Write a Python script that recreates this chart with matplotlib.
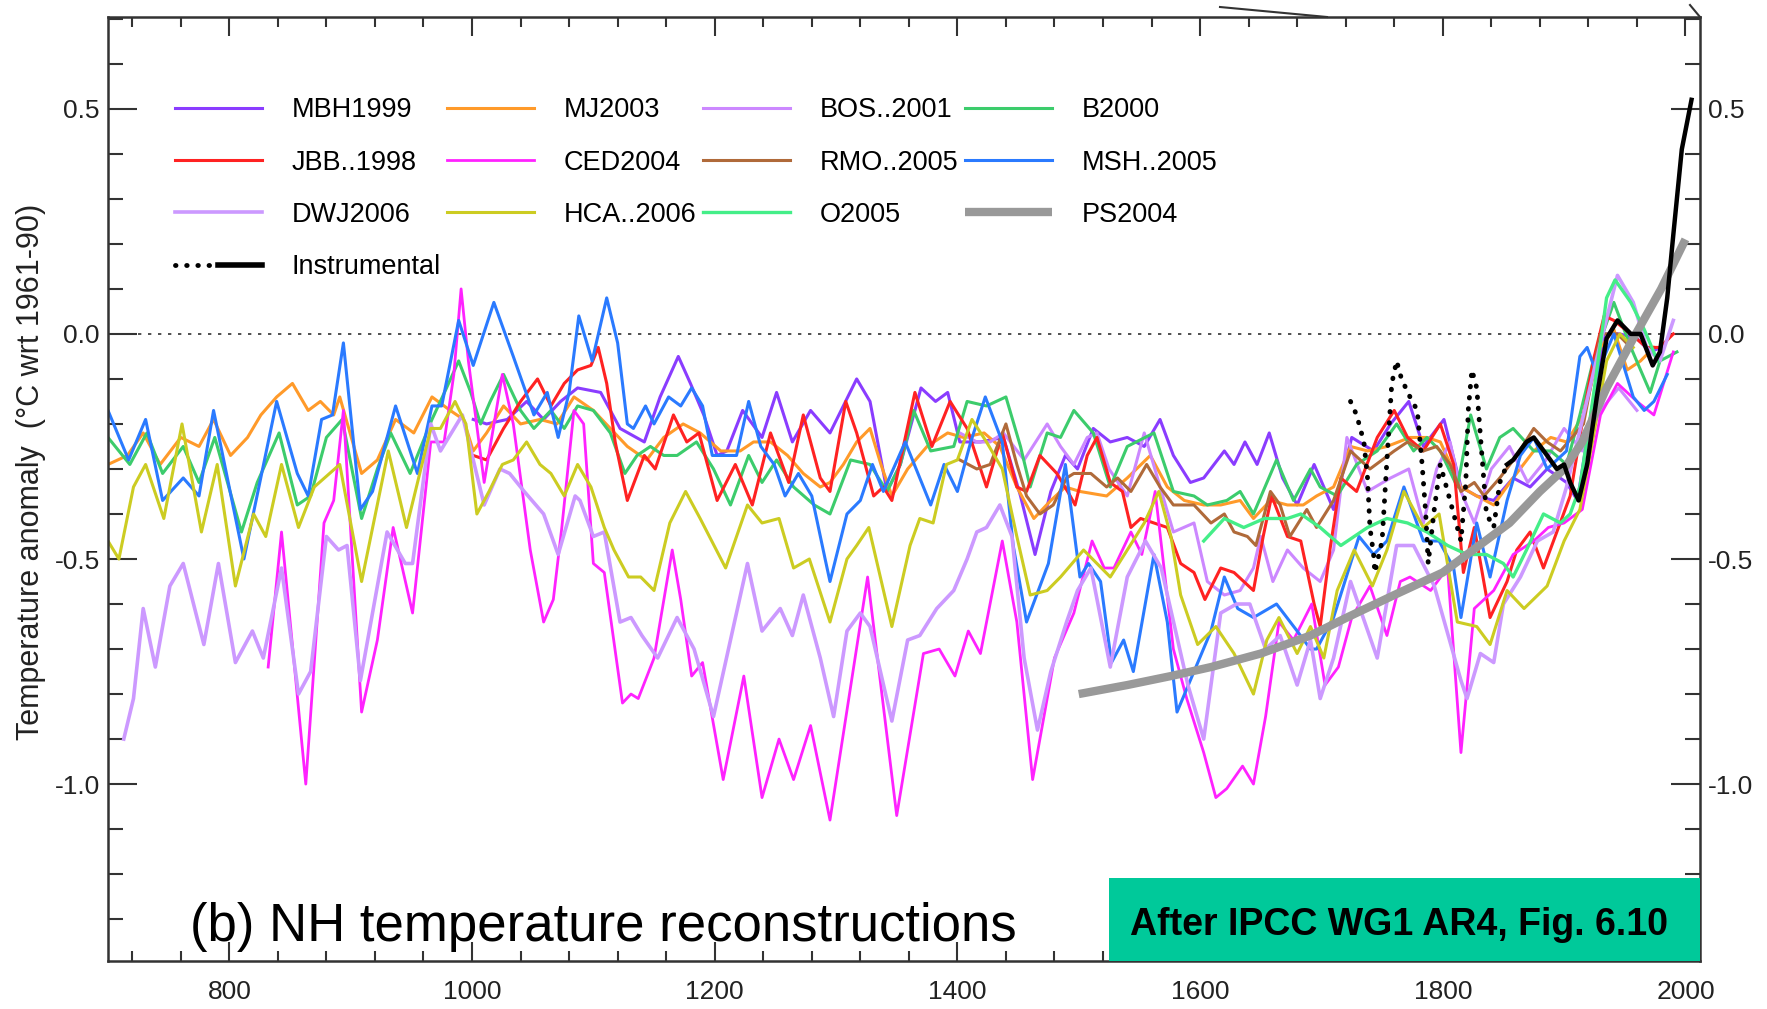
import numpy as np
import matplotlib
matplotlib.use("Agg")
import matplotlib.pyplot as plt
from matplotlib.lines import Line2D
from matplotlib.patches import Rectangle
from matplotlib.ticker import MultipleLocator, FormatStrFormatter
from matplotlib.legend_handler import HandlerTuple

plt.rcParams['font.family'] = ['Liberation Sans Narrow', 'Liberation Sans', 'DejaVu Sans']
plt.rcParams['axes.unicode_minus'] = False

# (year, anomaly) pairs for each NH reconstruction
MBH1999 = np.array([
    (1001, -0.19), (1012, -0.20), (1029, -0.19), (1045, -0.15), (1059, -0.19), (1073, -0.15),
    (1087, -0.12), (1106, -0.13), (1122, -0.21), (1142, -0.24), (1155, -0.14), (1170, -0.05),
    (1180, -0.11), (1191, -0.18), (1202, -0.27), (1210, -0.26), (1223, -0.17), (1239, -0.23),
    (1251, -0.13), (1264, -0.24), (1279, -0.17), (1295, -0.22), (1317, -0.10), (1328, -0.15),
    (1342, -0.35), (1353, -0.29), (1370, -0.12), (1382, -0.15), (1392, -0.13), (1402, -0.24),
    (1419, -0.24), (1438, -0.23), (1452, -0.36), (1464, -0.49), (1477, -0.35), (1489, -0.27),
    (1499, -0.30), (1512, -0.21), (1526, -0.24), (1540, -0.23), (1554, -0.25), (1567, -0.19),
    (1578, -0.27), (1592, -0.33), (1603, -0.32), (1620, -0.26), (1628, -0.29), (1637, -0.24),
    (1647, -0.29), (1657, -0.22), (1668, -0.32), (1680, -0.38), (1694, -0.29), (1710, -0.39),
    (1725, -0.23), (1743, -0.26), (1757, -0.20), (1772, -0.15), (1784, -0.25), (1801, -0.19),
    (1815, -0.34), (1828, -0.36), (1842, -0.37), (1858, -0.32), (1872, -0.34), (1886, -0.30),
    (1902, -0.33), (1911, -0.37), (1922, -0.18), (1933, 0.00), (1946, 0.00), (1960, -0.01),
    (1971, -0.04), (1980, -0.03)])

JBB1998 = np.array([
    (1001, -0.27), (1012, -0.28), (1026, -0.21), (1040, -0.15), (1054, -0.10), (1065, -0.16),
    (1076, -0.11), (1087, -0.08), (1098, -0.07), (1104, -0.03), (1111, -0.11), (1118, -0.24),
    (1128, -0.37), (1142, -0.27), (1151, -0.30), (1166, -0.18), (1177, -0.24), (1187, -0.22),
    (1202, -0.37), (1217, -0.29), (1231, -0.38), (1246, -0.22), (1261, -0.33), (1273, -0.18),
    (1287, -0.32), (1295, -0.35), (1308, -0.15), (1317, -0.22), (1331, -0.36), (1339, -0.34),
    (1346, -0.37), (1365, -0.13), (1379, -0.25), (1394, -0.15), (1408, -0.21), (1424, -0.34),
    (1437, -0.22), (1449, -0.34), (1457, -0.35), (1468, -0.27), (1482, -0.31), (1493, -0.36),
    (1497, -0.38), (1507, -0.27), (1515, -0.23), (1526, -0.33), (1536, -0.35), (1543, -0.43),
    (1551, -0.41), (1562, -0.42), (1573, -0.43), (1584, -0.51), (1595, -0.53), (1604, -0.59),
    (1617, -0.52), (1628, -0.53), (1644, -0.57), (1652, -0.45), (1659, -0.36), (1672, -0.45),
    (1683, -0.46), (1694, -0.60), (1699, -0.65), (1707, -0.48), (1716, -0.32), (1729, -0.35),
    (1746, -0.23), (1760, -0.17), (1771, -0.23), (1784, -0.26), (1798, -0.20), (1809, -0.29),
    (1817, -0.53), (1826, -0.43), (1839, -0.63), (1853, -0.55), (1861, -0.48), (1872, -0.44),
    (1883, -0.52), (1894, -0.44), (1905, -0.36), (1916, -0.18), (1924, -0.06), (1933, 0.04),
    (1941, 0.03), (1955, 0.00), (1968, -0.03), (1979, -0.03), (1990, 0.00)])

MJ2003 = np.array([
    (700, -0.29), (716, -0.27), (729, -0.22), (743, -0.29), (760, -0.23), (775, -0.25),
    (787, -0.19), (801, -0.27), (815, -0.23), (826, -0.18), (839, -0.14), (852, -0.11),
    (865, -0.17), (875, -0.15), (886, -0.18), (891, -0.14), (909, -0.31), (922, -0.28),
    (937, -0.19), (952, -0.22), (967, -0.14), (982, -0.17), (993, -0.19), (1001, -0.26),
    (1012, -0.22), (1026, -0.16), (1040, -0.20), (1056, -0.19), (1070, -0.20), (1084, -0.14),
    (1100, -0.17), (1114, -0.21), (1128, -0.25), (1144, -0.28), (1158, -0.23), (1174, -0.20),
    (1188, -0.22), (1205, -0.26), (1221, -0.26), (1232, -0.24), (1246, -0.24), (1260, -0.27),
    (1273, -0.31), (1287, -0.34), (1295, -0.33), (1306, -0.29), (1317, -0.24), (1328, -0.21),
    (1337, -0.29), (1346, -0.36), (1359, -0.30), (1375, -0.25), (1392, -0.22), (1405, -0.23),
    (1422, -0.22), (1435, -0.25), (1449, -0.34), (1463, -0.41), (1477, -0.37), (1489, -0.34),
    (1501, -0.35), (1523, -0.36), (1540, -0.32), (1559, -0.27), (1573, -0.34), (1587, -0.37),
    (1603, -0.38), (1617, -0.38), (1633, -0.37), (1644, -0.41), (1658, -0.37), (1672, -0.38),
    (1685, -0.38), (1696, -0.36), (1710, -0.34), (1724, -0.25), (1738, -0.26), (1754, -0.25),
    (1773, -0.23), (1787, -0.23), (1798, -0.24), (1815, -0.34), (1828, -0.36), (1842, -0.38),
    (1858, -0.32), (1875, -0.26), (1889, -0.23), (1902, -0.24), (1916, -0.18), (1930, -0.03),
    (1941, 0.01), (1952, -0.08), (1963, -0.06), (1974, -0.03)])

CED2004 = np.array([
    (832, -0.74), (843, -0.44), (863, -1.00), (878, -0.42), (886, -0.37), (894, -0.17),
    (909, -0.84), (922, -0.68), (935, -0.43), (951, -0.62), (966, -0.24), (977, -0.24),
    (985, -0.09), (991, 0.10), (997, -0.06), (1010, -0.33), (1025, -0.09), (1034, -0.20),
    (1048, -0.48), (1059, -0.64), (1067, -0.59), (1074, -0.43), (1084, -0.17), (1092, -0.20),
    (1100, -0.51), (1109, -0.53), (1124, -0.82), (1131, -0.80), (1137, -0.81), (1150, -0.72),
    (1165, -0.48), (1172, -0.59), (1181, -0.76), (1190, -0.73), (1207, -0.99), (1224, -0.76),
    (1239, -1.03), (1253, -0.90), (1265, -0.99), (1279, -0.87), (1295, -1.08), (1326, -0.54),
    (1350, -1.07), (1372, -0.71), (1385, -0.70), (1398, -0.76), (1409, -0.66), (1419, -0.71),
    (1437, -0.46), (1449, -0.64), (1462, -0.99), (1480, -0.72), (1496, -0.62), (1511, -0.46),
    (1521, -0.52), (1529, -0.52), (1543, -0.44), (1552, -0.49), (1563, -0.35), (1578, -0.70),
    (1589, -0.81), (1603, -0.93), (1613, -1.03), (1622, -1.01), (1635, -0.96), (1644, -1.00),
    (1654, -0.85), (1665, -0.64), (1677, -0.68), (1692, -0.60), (1703, -0.78), (1714, -0.74),
    (1725, -0.63), (1740, -0.56), (1754, -0.67), (1765, -0.55), (1773, -0.54), (1790, -0.57),
    (1804, -0.52), (1815, -0.93), (1826, -0.61), (1842, -0.57), (1858, -0.49), (1875, -0.46),
    (1887, -0.43), (1900, -0.42), (1915, -0.39), (1930, -0.18), (1944, -0.11), (1960, -0.15),
    (1974, -0.18), (1990, -0.04)])

DWJ2006 = np.array([
    (713, -0.90), (721, -0.81), (729, -0.61), (739, -0.74), (751, -0.56), (762, -0.51),
    (779, -0.69), (791, -0.51), (805, -0.73), (819, -0.66), (828, -0.72), (843, -0.52),
    (857, -0.80), (867, -0.75), (880, -0.45), (890, -0.48), (897, -0.47), (908, -0.77),
    (930, -0.44), (945, -0.51), (951, -0.51), (966, -0.20), (974, -0.26), (992, -0.18),
    (1010, -0.38), (1023, -0.30), (1031, -0.31), (1043, -0.35), (1059, -0.40), (1071, -0.49),
    (1085, -0.36), (1089, -0.37), (1100, -0.45), (1109, -0.44), (1122, -0.64), (1131, -0.63),
    (1140, -0.67), (1153, -0.72), (1169, -0.63), (1183, -0.70), (1199, -0.85), (1213, -0.68),
    (1227, -0.51), (1239, -0.66), (1254, -0.61), (1264, -0.67), (1273, -0.58), (1287, -0.72),
    (1298, -0.85), (1309, -0.66), (1320, -0.62), (1328, -0.65), (1346, -0.86), (1359, -0.68),
    (1369, -0.67), (1383, -0.61), (1397, -0.57), (1408, -0.50), (1416, -0.44), (1424, -0.43),
    (1435, -0.38), (1445, -0.45), (1455, -0.72), (1466, -0.88), (1477, -0.75), (1490, -0.64),
    (1499, -0.57), (1510, -0.52), (1526, -0.74), (1540, -0.54), (1555, -0.46), (1568, -0.52),
    (1590, -0.78), (1603, -0.90), (1617, -0.62), (1630, -0.60), (1641, -0.60), (1654, -0.70),
    (1666, -0.67), (1680, -0.78), (1691, -0.68), (1699, -0.81), (1710, -0.72), (1724, -0.55),
    (1746, -0.72), (1762, -0.47), (1776, -0.47), (1793, -0.56), (1815, -0.77), (1820, -0.81),
    (1831, -0.71), (1842, -0.73), (1850, -0.60), (1864, -0.54), (1878, -0.46), (1891, -0.44),
    (1902, -0.34), (1916, -0.18), (1930, -0.02), (1944, 0.13), (1957, 0.07), (1968, -0.03),
    (1979, -0.06), (1990, 0.03)])

HCA2006 = np.array([
    (700, -0.46), (709, -0.50), (721, -0.34), (731, -0.29), (746, -0.41), (761, -0.20),
    (777, -0.44), (790, -0.29), (805, -0.56), (820, -0.40), (830, -0.45), (843, -0.29),
    (857, -0.43), (870, -0.34), (891, -0.29), (909, -0.55), (931, -0.26), (946, -0.43),
    (966, -0.21), (974, -0.21), (986, -0.15), (995, -0.20), (1004, -0.40), (1014, -0.35),
    (1025, -0.29), (1034, -0.28), (1045, -0.24), (1056, -0.29), (1065, -0.31), (1076, -0.36),
    (1087, -0.29), (1098, -0.34), (1109, -0.43), (1117, -0.48), (1129, -0.54), (1139, -0.54),
    (1150, -0.57), (1163, -0.42), (1176, -0.35), (1188, -0.41), (1209, -0.52), (1218, -0.45),
    (1227, -0.38), (1239, -0.42), (1253, -0.41), (1265, -0.52), (1278, -0.50), (1295, -0.64),
    (1309, -0.50), (1317, -0.47), (1327, -0.43), (1346, -0.65), (1361, -0.47), (1369, -0.41),
    (1380, -0.42), (1391, -0.29), (1400, -0.28), (1412, -0.19), (1424, -0.24), (1437, -0.30),
    (1449, -0.45), (1460, -0.58), (1474, -0.57), (1485, -0.54), (1504, -0.48), (1526, -0.54),
    (1540, -0.48), (1554, -0.42), (1566, -0.35), (1576, -0.45), (1584, -0.58), (1598, -0.69),
    (1613, -0.65), (1628, -0.71), (1644, -0.80), (1655, -0.68), (1665, -0.63), (1680, -0.71),
    (1691, -0.65), (1702, -0.72), (1713, -0.57), (1727, -0.48), (1742, -0.56), (1754, -0.48),
    (1768, -0.35), (1784, -0.43), (1797, -0.40), (1812, -0.64), (1828, -0.65), (1839, -0.69),
    (1853, -0.57), (1867, -0.61), (1886, -0.56), (1900, -0.46), (1913, -0.39), (1924, -0.23),
    (1935, -0.06), (1946, 0.00), (1957, -0.03)])

BOS2001 = np.array([
    (1402, -0.22), (1416, -0.24), (1427, -0.24), (1438, -0.22), (1455, -0.28), (1474, -0.20),
    (1485, -0.25), (1496, -0.29), (1507, -0.23), (1515, -0.22), (1525, -0.30), (1540, -0.36),
    (1554, -0.22), (1566, -0.33), (1578, -0.44), (1595, -0.42), (1606, -0.55), (1620, -0.58),
    (1633, -0.57), (1644, -0.52), (1650, -0.45), (1660, -0.55), (1672, -0.48), (1685, -0.52),
    (1699, -0.55), (1710, -0.48), (1721, -0.23), (1738, -0.35), (1757, -0.32), (1772, -0.30),
    (1784, -0.42), (1795, -0.30), (1806, -0.24), (1815, -0.35), (1826, -0.42), (1840, -0.30),
    (1855, -0.25), (1870, -0.33), (1885, -0.28), (1900, -0.21), (1915, -0.26), (1930, -0.17),
    (1945, -0.12), (1960, -0.17)])

RMO2005 = np.array([
    (1402, -0.28), (1416, -0.30), (1427, -0.29), (1440, -0.20), (1449, -0.29), (1457, -0.36),
    (1468, -0.40), (1479, -0.38), (1490, -0.32), (1496, -0.31), (1510, -0.31), (1523, -0.34),
    (1532, -0.32), (1543, -0.35), (1556, -0.29), (1567, -0.34), (1578, -0.38), (1595, -0.38),
    (1609, -0.42), (1620, -0.40), (1628, -0.44), (1639, -0.45), (1646, -0.47), (1658, -0.35),
    (1666, -0.38), (1674, -0.45), (1688, -0.39), (1696, -0.43), (1710, -0.37), (1724, -0.26),
    (1740, -0.30), (1760, -0.26), (1771, -0.24), (1784, -0.26), (1795, -0.25), (1806, -0.29),
    (1815, -0.35), (1826, -0.33), (1834, -0.36), (1847, -0.32), (1861, -0.27), (1875, -0.21),
    (1886, -0.24), (1897, -0.26), (1916, -0.20), (1930, 0.00), (1944, 0.00), (1955, -0.03)])

O2005 = np.array([
    (1603, -0.46), (1620, -0.41), (1636, -0.43), (1653, -0.41), (1672, -0.41), (1683, -0.40),
    (1699, -0.43), (1716, -0.47), (1738, -0.43), (1754, -0.41), (1771, -0.42), (1787, -0.44),
    (1804, -0.47), (1820, -0.49), (1836, -0.49), (1850, -0.51), (1858, -0.54), (1869, -0.48),
    (1883, -0.40), (1897, -0.42), (1905, -0.40), (1913, -0.34), (1924, -0.14), (1935, 0.08),
    (1942, 0.12), (1955, 0.07), (1966, 0.01), (1977, -0.06)])

B2000 = np.array([
    (700, -0.23), (718, -0.29), (732, -0.22), (745, -0.31), (762, -0.25), (775, -0.33),
    (788, -0.23), (810, -0.44), (823, -0.33), (841, -0.22), (856, -0.38), (867, -0.36),
    (880, -0.23), (893, -0.19), (909, -0.41), (922, -0.30), (933, -0.22), (949, -0.31),
    (967, -0.19), (979, -0.12), (989, -0.06), (999, -0.13), (1007, -0.20), (1015, -0.15),
    (1026, -0.09), (1040, -0.17), (1051, -0.21), (1065, -0.17), (1076, -0.21), (1087, -0.16),
    (1100, -0.17), (1114, -0.22), (1126, -0.31), (1136, -0.27), (1147, -0.25), (1158, -0.27),
    (1169, -0.27), (1185, -0.24), (1199, -0.30), (1213, -0.38), (1228, -0.27), (1239, -0.33),
    (1251, -0.28), (1265, -0.34), (1282, -0.38), (1295, -0.40), (1312, -0.28), (1328, -0.29),
    (1342, -0.35), (1353, -0.29), (1364, -0.17), (1378, -0.26), (1397, -0.25), (1408, -0.15),
    (1424, -0.16), (1440, -0.14), (1452, -0.25), (1460, -0.34), (1474, -0.22), (1485, -0.23),
    (1496, -0.17), (1512, -0.22), (1526, -0.34), (1540, -0.25), (1562, -0.22), (1578, -0.35),
    (1595, -0.36), (1606, -0.38), (1622, -0.37), (1633, -0.35), (1644, -0.40), (1663, -0.28),
    (1677, -0.37), (1691, -0.30), (1699, -0.34), (1713, -0.36), (1729, -0.29), (1746, -0.26),
    (1762, -0.20), (1776, -0.26), (1787, -0.23), (1798, -0.26), (1812, -0.34), (1823, -0.18),
    (1836, -0.30), (1847, -0.23), (1858, -0.21), (1875, -0.26), (1889, -0.26), (1902, -0.29),
    (1913, -0.18), (1924, -0.06), (1941, 0.07), (1955, -0.03), (1971, -0.13), (1979, -0.06),
    (1993, -0.04)])

MSH2005 = np.array([
    (700, -0.17), (717, -0.28), (731, -0.19), (745, -0.37), (762, -0.32), (775, -0.36),
    (787, -0.17), (812, -0.50), (839, -0.15), (856, -0.31), (865, -0.36), (876, -0.19),
    (885, -0.18), (894, -0.02), (908, -0.39), (918, -0.35), (937, -0.16), (955, -0.31),
    (967, -0.16), (975, -0.16), (989, 0.03), (1001, -0.07), (1018, 0.07), (1034, -0.05),
    (1051, -0.18), (1062, -0.13), (1071, -0.23), (1080, -0.13), (1088, 0.04), (1099, -0.06),
    (1111, 0.08), (1120, -0.02), (1128, -0.20), (1133, -0.21), (1143, -0.16), (1150, -0.20),
    (1162, -0.14), (1172, -0.16), (1181, -0.12), (1190, -0.16), (1198, -0.27), (1218, -0.27),
    (1228, -0.15), (1238, -0.25), (1249, -0.29), (1258, -0.36), (1269, -0.31), (1280, -0.36),
    (1291, -0.50), (1295, -0.55), (1309, -0.40), (1320, -0.37), (1330, -0.29), (1339, -0.35),
    (1357, -0.24), (1378, -0.38), (1389, -0.29), (1400, -0.35), (1411, -0.24), (1423, -0.14),
    (1437, -0.24), (1446, -0.47), (1457, -0.64), (1475, -0.51), (1489, -0.29), (1501, -0.54),
    (1508, -0.51), (1518, -0.55), (1527, -0.73), (1537, -0.68), (1545, -0.75), (1562, -0.49),
    (1573, -0.64), (1581, -0.84), (1595, -0.75), (1609, -0.66), (1620, -0.54), (1631, -0.61),
    (1644, -0.63), (1663, -0.60), (1680, -0.66), (1691, -0.70), (1696, -0.70), (1710, -0.63),
    (1731, -0.45), (1743, -0.49), (1754, -0.46), (1768, -0.34), (1784, -0.46), (1797, -0.46),
    (1809, -0.52), (1815, -0.63), (1828, -0.42), (1839, -0.54), (1853, -0.37), (1864, -0.27),
    (1875, -0.23), (1886, -0.30), (1902, -0.26), (1913, -0.05), (1919, -0.03), (1927, -0.09),
    (1941, 0.00), (1949, -0.07), (1957, -0.14), (1966, -0.17), (1974, -0.15), (1985, -0.09)])

PS2004 = np.array([
    (1500, -0.80), (1540, -0.78), (1576, -0.76), (1609, -0.74), (1650, -0.71), (1691, -0.67),
    (1721, -0.63), (1760, -0.58), (1800, -0.53), (1830, -0.47), (1855, -0.42), (1880, -0.35),
    (1900, -0.30), (1915, -0.24), (1935, -0.12), (1957, -0.01), (1980, 0.10), (2000, 0.21)])

# instrumental record: early station data (dotted) and hemispheric mean (solid)
instr_early = np.array([
    (1724, -0.15), (1729, -0.18), (1735, -0.24), (1738, -0.32), (1740, -0.43), (1743, -0.49),
    (1744, -0.53), (1750, -0.46), (1754, -0.28), (1758, -0.11), (1762, -0.06), (1766, -0.10),
    (1773, -0.14), (1779, -0.17), (1783, -0.29), (1786, -0.40), (1788, -0.51), (1793, -0.39),
    (1798, -0.29), (1806, -0.37), (1815, -0.46), (1819, -0.33), (1821, -0.17), (1824, -0.08),
    (1828, -0.12), (1832, -0.26), (1836, -0.40), (1842, -0.43), (1847, -0.33), (1853, -0.29)])

instr_nh = np.array([
    (1853, -0.29), (1858, -0.28), (1869, -0.24), (1875, -0.23), (1886, -0.27), (1894, -0.30),
    (1900, -0.29), (1905, -0.33), (1912, -0.37), (1919, -0.29), (1927, -0.14), (1935, -0.01),
    (1944, 0.03), (1955, 0.00), (1963, 0.00), (1973, -0.07), (1979, -0.04), (1985, 0.08),
    (1990, 0.22), (1997, 0.41), (2005, 0.52)])

series = [
    ('MBH1999', MBH1999, '#8a3cff', 2.2),
    ('MJ2003', MJ2003, '#ff9a2a', 2.2),
    ('BOS..2001', BOS2001, '#cc88ff', 2.2),
    ('B2000', B2000, '#3ccc6c', 2.2),
    ('JBB..1998', JBB1998, '#ff2222', 2.2),
    ('CED2004', CED2004, '#ff22ff', 2.0),
    ('RMO..2005', RMO2005, '#b06a3a', 2.2),
    ('MSH..2005', MSH2005, '#2a7aff', 2.2),
    ('DWJ2006', DWJ2006, '#cc99ff', 2.6),
    ('HCA..2006', HCA2006, '#cccc22', 2.2),
    ('O2005', O2005, '#44ee88', 2.4),
]

fig = plt.figure(figsize=(17.67, 10.09), dpi=100)
ax = fig.add_axes([108 / 1767, 1 - 961 / 1009, 1592 / 1767, 944 / 1009])

handles = {}
for name, data, color, lw in series:
    handles[name], = ax.plot(data[:, 0], data[:, 1], color=color, lw=lw, zorder=2,
                             solid_joinstyle='round')

handles['PS2004'], = ax.plot(PS2004[:, 0], PS2004[:, 1], color='#999999', lw=6, zorder=3,
                             solid_capstyle='butt')

ax.plot(instr_early[:, 0], instr_early[:, 1], color='black', lw=3.5,
        linestyle=(0, (0.1, 2.2)), dash_capstyle='round', zorder=4)
ax.plot(instr_nh[:, 0], instr_nh[:, 1], color='black', lw=3.2, zorder=4,
        solid_joinstyle='round')

ax.axhline(0, color='#333333', lw=1.2, linestyle=(0, (2, 4)), zorder=1)

ax.set_xlim(700, 2012)
ax.set_ylim(-1.393, 0.704)
ax.set_xticks(range(800, 2001, 200))
ax.xaxis.set_minor_locator(MultipleLocator(40))
ax.set_yticks([-1.0, -0.5, 0.0, 0.5])
ax.yaxis.set_minor_locator(MultipleLocator(0.1))
ax.yaxis.set_major_formatter(FormatStrFormatter('%.1f'))

ax.tick_params(axis='x', which='major', direction='in', length=14, width=1.5, top=True,
               pad=14, labelsize=19, color='#333333', labelcolor='#222222')
ax.tick_params(axis='x', which='minor', direction='in', length=7, width=1.5, top=True,
               color='#333333')
ax.tick_params(axis='y', which='major', direction='in', length=21, width=1.5, right=True,
               labelright=True, pad=6, labelsize=19, color='#333333', labelcolor='#222222')
ax.tick_params(axis='y', which='minor', direction='in', length=11, width=1.5, right=True,
               color='#333333')
for sp in ax.spines.values():
    sp.set_linewidth(1.8)
    sp.set_color('#333333')

fig.text(0.0175, 0.532, 'Temperature anomaly  (\u00b0C wrt 1961-90)', rotation=90,
         ha='center', va='center', fontsize=22, color='#222222')

# legend, filled column by column to give four rows
dots = Line2D([], [], color='black', lw=3.5, linestyle=(0, (0.1, 2.2)), dash_capstyle='round')
solid = Line2D([], [], color='black', lw=4)
order = ['MBH1999', 'JBB..1998', 'DWJ2006', 'Instrumental',
         'MJ2003', 'CED2004', 'HCA..2006',
         'BOS..2001', 'RMO..2005', 'O2005',
         'B2000', 'MSH..2005', 'PS2004']
handles['Instrumental'] = (dots, solid)
ax.legend([handles[k] for k in order], order, loc='upper left',
          bbox_to_anchor=(0.042, 0.915), ncol=4, frameon=False, fontsize=19.5,
          handlelength=3.2, handletextpad=1.1, columnspacing=0.25, labelspacing=0.97,
          borderpad=0, borderaxespad=0,
          handler_map={tuple: HandlerTuple(ndivide=None, pad=0)})

ax.text(0.0515, 0.021, '(b) NH temperature reconstructions', transform=ax.transAxes,
        fontsize=38, va='baseline', ha='left', color='black')

ax.add_patch(Rectangle((0.629, 0.0), 0.371, 0.088, transform=ax.transAxes,
                       facecolor='#00c99a', edgecolor='none', zorder=5))
ax.text(0.642, 0.038, 'After IPCC WG1 AR4, Fig. 6.10', transform=ax.transAxes,
        fontsize=27, fontweight='bold', va='center', ha='left', color='black', zorder=6)

# strokes from the panel above, cut off at the top edge
fig.add_artist(Line2D([1220 / 1767, 1327 / 1767], [1 - 7 / 1009, 1 - 17 / 1009],
                      color='#333333', lw=1.5))
fig.add_artist(Line2D([1690 / 1767, 1700 / 1767], [1 - 5 / 1009, 1 - 17 / 1009],
                      color='#333333', lw=1.5))

fig.savefig('out.png', dpi=100)
